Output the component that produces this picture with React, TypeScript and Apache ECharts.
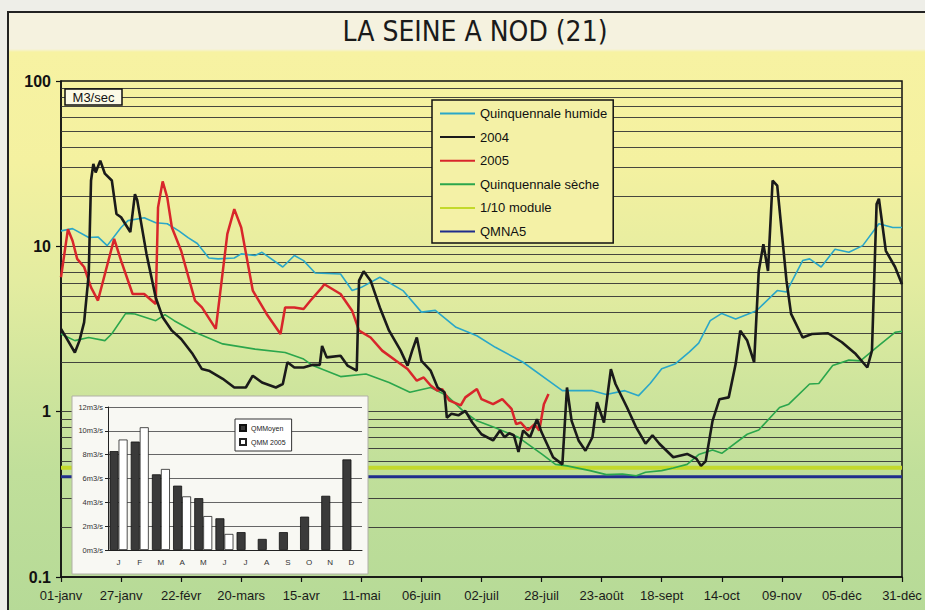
import React, { useEffect, useRef } from 'react';
import * as echarts from 'echarts';

const FONT = "'Liberation Sans', Arial, sans-serif";
const TITLE_FONT = "'Liberation Sans Narrow', 'Arial Narrow', 'DejaVu Sans Condensed', 'Liberation Sans', sans-serif";

const xTickLabels = ['01-janv', '27-janv', '22-févr', '20-mars', '15-avr', '11-mai', '06-juin', '02-juil', '28-juil', '23-août', '18-sept', '14-oct', '09-nov', '05-déc', '31-déc'];

// [day of year, m3/s]
const humide: [number, number][] = [
  [0, 12.4], [5, 12.8], [12, 11.3], [16, 11.4], [20, 10.1], [26, 13.0], [29, 14.3], [36, 14.9], [41, 13.9], [46, 13.7],
  [51, 12.4], [55, 11.3], [59, 10.4], [64, 8.5], [68, 8.4], [75, 8.5], [78, 9.0], [84, 8.8], [87, 9.2], [96, 7.5],
  [101, 8.8], [105, 8.2], [110, 6.9], [121, 6.8], [126, 5.4], [130, 5.65], [138, 6.5], [148, 5.4], [156, 4.0], [162, 4.1],
  [171, 3.24], [180, 2.88], [188, 2.45], [200, 1.99], [211, 1.54], [217, 1.34], [224, 1.34], [230, 1.34], [236, 1.27], [244, 1.34],
  [250, 1.25], [255, 1.48], [260, 1.82], [266, 1.95], [272, 2.3], [276, 2.6], [281, 3.55], [286, 3.93], [292, 3.64], [301, 4.08],
  [310, 5.4], [314, 5.3], [321, 8.2], [324, 8.4], [329, 7.5], [335, 9.6], [341, 9.2], [347, 10.1], [354, 13.7], [360, 13.0], [364, 13.0],
];

const seche: [number, number][] = [
  [0, 2.95], [6, 2.69], [12, 2.81], [19, 2.69], [22, 2.96], [28, 3.93], [32, 3.9], [41, 3.55], [45, 3.86], [49, 3.55],
  [58, 3.02], [70, 2.57], [84, 2.39], [97, 2.28], [105, 2.08], [109, 1.9], [121, 1.63], [132, 1.69], [142, 1.5], [151, 1.31],
  [160, 1.4], [167, 1.25], [174, 1.01], [180, 0.88], [188, 0.8], [198, 0.7], [208, 0.555], [214, 0.48], [219, 0.47], [229, 0.44],
  [236, 0.416], [243, 0.42], [249, 0.41], [253, 0.43], [260, 0.44], [265, 0.456], [271, 0.48], [276, 0.55], [282, 0.586], [286, 0.56],
  [297, 0.73], [302, 0.775], [311, 1.06], [315, 1.11], [324, 1.47], [328, 1.48], [334, 1.9], [341, 2.05], [346, 2.03], [353, 2.45],
  [361, 3.02], [364, 3.06],
];

const year2004: [number, number][] = [
  [0, 3.17], [3, 2.69], [6, 2.28], [8, 2.69], [10, 3.47], [12, 6.8], [13, 25], [14, 31.5], [15, 28], [17, 33], [19, 27.5],
  [22, 25], [24, 15.7], [26, 15], [30, 12.2], [32, 20.7], [33, 19], [37, 9.0], [41, 4.9], [44, 3.72], [48, 3.09], [52, 2.75],
  [57, 2.23], [61, 1.81], [64, 1.77], [70, 1.58], [75, 1.4], [80, 1.4], [83, 1.65], [87, 1.5], [93, 1.4], [96, 1.47], [98, 1.99],
  [101, 1.85], [105, 1.85], [109, 1.92], [112, 1.92], [113, 2.5], [115, 2.13], [121, 2.18], [124, 1.9], [128, 1.77], [129, 6.2],
  [131, 7.06], [134, 6.2], [138, 4.27], [142, 3.09], [147, 2.34], [150, 1.9], [152, 2.34], [154, 2.81], [156, 2.03], [160, 1.77],
  [163, 1.4], [166, 1.31], [167, 0.92], [169, 0.97], [172, 0.95], [175, 1.01], [178, 0.86], [182, 0.73], [187, 0.67], [190, 0.77],
  [192, 0.7], [194, 0.74], [196, 0.72], [198, 0.57], [200, 0.77], [203, 0.7], [206, 0.9], [208, 0.75], [213, 0.53], [217, 0.48],
  [219, 1.4], [221, 0.88], [224, 0.67], [227, 0.58], [230, 0.7], [232, 1.14], [235, 0.86], [238, 1.81], [240, 1.47], [245, 1.06],
  [249, 0.8], [253, 0.64], [256, 0.72], [259, 0.64], [265, 0.53], [271, 0.555], [275, 0.52], [277, 0.47], [279, 0.5], [282, 0.88],
  [285, 1.19], [289, 1.22], [292, 1.94], [294, 3.09], [297, 2.69], [300, 1.99], [302, 7.1], [304, 10.3], [306, 7.1], [308, 25],
  [310, 23.3], [314, 6.2], [316, 3.9], [321, 2.81], [325, 2.95], [332, 2.98], [338, 2.63], [344, 2.23], [349, 1.85], [351, 2.34],
  [353, 18], [354, 19.4], [357, 9.4], [361, 7.5], [364, 5.9],
];

const year2005: [number, number][] = [
  [0, 6.5], [3, 12.7], [5, 10.8], [7, 8.4], [10, 7.5], [13, 5.65], [16, 4.7], [19, 6.8], [23, 11.1], [26, 8.2], [31, 5.15],
  [36, 5.15], [41, 4.48], [42, 17.2], [44, 24.7], [46, 19.7], [48, 13.0], [52, 9.4], [58, 4.7], [61, 4.27], [67, 3.17], [72, 11.9],
  [75, 16.8], [78, 13], [83, 5.4], [89, 3.9], [95, 2.95], [97, 4.27], [101, 4.27], [105, 4.18], [108, 4.7], [113, 5.65], [114, 5.9],
  [121, 5.15], [126, 4.08], [129, 3.09], [134, 2.81], [139, 2.34], [145, 2.03], [150, 1.81], [154, 1.54], [157, 1.61], [160, 1.44],
  [163, 1.34], [165, 1.37], [168, 1.17], [173, 1.09], [175, 1.22], [180, 1.37], [182, 1.19], [187, 1.11], [191, 1.19], [195, 1.04],
  [197, 0.84], [199, 0.86], [202, 0.77], [205, 0.84], [207, 0.77], [209, 1.11], [211, 1.28],
];

const moduleDixieme = 0.458;
const qmna5 = 0.404;

const minorGridValues = [0.2, 0.3, 0.4, 0.5, 0.6, 0.7, 0.8, 0.9, 1, 2, 3, 4, 5, 6, 7, 8, 9, 10, 20, 30, 40, 50, 60, 70, 80, 90];

const months = ['J', 'F', 'M', 'A', 'M', 'J', 'J', 'A', 'S', 'O', 'N', 'D'];
const qmMoyen = [8.3, 9.1, 6.35, 5.4, 4.35, 2.66, 1.5, 0.93, 1.5, 2.8, 4.55, 7.6];
const qmm2005 = [9.27, 10.3, 6.8, 4.5, 2.85, 1.35, null, null, null, null, null, null];

export default function App() {
  const ref = useRef<HTMLDivElement>(null);

  useEffect(() => {
    const chart = echarts.init(ref.current!, null, { renderer: 'svg', width: 925, height: 610 });
    const line = (name: string, data: [number, number][], color: string, width: number, z: number) => ({
      name,
      type: 'line',
      data,
      xAxisIndex: 0,
      yAxisIndex: 0,
      symbol: 'none',
      z,
      lineStyle: { color, width },
      itemStyle: { color },
    });
    const option: any = {
      animation: false,
      backgroundColor: 'transparent',
      title: {
        text: 'LA SEINE A NOD (21)',
        left: 470,
        textAlign: 'center',
        top: 12,
        textStyle: { fontSize: 28, fontWeight: 'normal', fontFamily: TITLE_FONT, color: '#1a1a1a' },
      },
      legend: [
        {
          data: ['Quinquennale humide', '2004', '2005', 'Quinquennale sèche', '1/10 module', 'QMNA5'],
          orient: 'vertical',
          left: 432,
          top: 100,
          itemWidth: 35,
          itemHeight: 12,
          itemGap: 10.6,
          padding: [7, 6, 5, 7],
          borderColor: '#111',
          borderWidth: 1.5,
          backgroundColor: '#f4f1a6',
          z: 10,
          itemStyle: { opacity: 0, color: 'transparent', borderColor: 'transparent', borderWidth: 0 },
          textStyle: { fontSize: 13, color: '#111', fontFamily: FONT },
        },
        {
          data: ['QMMoyen', 'QMM 2005'],
          orient: 'vertical',
          left: 235,
          top: 419,
          icon: 'rect',
          itemWidth: 6,
          itemHeight: 6,
          itemGap: 6,
          itemTextGap: 3,
          padding: [5, 6, 5, 4],
          borderColor: '#333',
          borderWidth: 1,
          backgroundColor: '#fff',
          z: 16,
          textStyle: { fontSize: 7, color: '#222', fontFamily: FONT },
        },
      ],
      grid: [
        { left: 61, top: 81, width: 841, height: 496, show: true, borderColor: '#111', borderWidth: 1.5, backgroundColor: 'transparent' },
        { left: 108, top: 407, width: 254, height: 143 },
      ],
      xAxis: [
        {
          type: 'value',
          gridIndex: 0,
          min: 0,
          max: 364,
          interval: 26,
          axisLine: { lineStyle: { color: '#111', width: 1.5 } },
          axisTick: { show: true, length: 5, lineStyle: { color: '#111', width: 1.2 } },
          splitLine: { show: false },
          axisLabel: {
            margin: 12,
            fontSize: 13,
            color: '#1a1a1a',
            fontFamily: FONT,
            formatter: (v: number) => xTickLabels[Math.round(v / 26)] ?? '',
          },
        },
        {
          type: 'category',
          gridIndex: 1,
          data: months,
          z: 14,
          axisLine: { lineStyle: { color: '#222', width: 1 } },
          axisTick: { length: 3, lineStyle: { color: '#222' } },
          axisLabel: { fontSize: 8, color: '#333', margin: 8, fontFamily: FONT },
        },
      ],
      yAxis: [
        {
          type: 'log',
          gridIndex: 0,
          logBase: 10,
          min: 0.1,
          max: 100,
          axisLine: { show: true, lineStyle: { color: '#111', width: 1.5 } },
          axisTick: { show: true, length: 5, lineStyle: { color: '#111', width: 1.2 } },
          splitLine: { show: false },
          axisLabel: {
            margin: 10,
            fontSize: 16,
            fontWeight: 'bold',
            color: '#111',
            fontFamily: FONT,
            formatter: (v: number) => (v < 0.5 ? '0.1' : String(Math.round(v))),
          },
        },
        {
          type: 'value',
          gridIndex: 1,
          min: 0,
          max: 12,
          interval: 2,
          z: 14,
          axisLine: { show: true, lineStyle: { color: '#222', width: 1 } },
          axisTick: { show: true, length: 3, lineStyle: { color: '#222' } },
          splitLine: { lineStyle: { color: '#666', width: 1 } },
          axisLabel: { fontSize: 7.5, color: '#333', margin: 5, fontFamily: FONT, formatter: (v: number) => `${v}m3/s` },
        },
      ],
      series: [
        {
          name: '_grid',
          type: 'line',
          xAxisIndex: 0,
          yAxisIndex: 0,
          data: [],
          z: 1,
          silent: true,
          markLine: {
            silent: true,
            z: 1,
            symbol: 'none',
            label: { show: false },
            lineStyle: { color: '#333', width: 1.2, type: 'solid', opacity: 0.9 },
            data: minorGridValues.map((v) => ({ yAxis: v })),
          },
        },
        line('1/10 module', [[0, moduleDixieme], [364, moduleDixieme]], '#c3d92b', 4, 6),
        line('QMNA5', [[0, qmna5], [364, qmna5]], '#1f2d8c', 3, 6),
        line('Quinquennale humide', humide, '#2aa7c8', 1.6, 7),
        line('Quinquennale sèche', seche, '#2ba64c', 1.6, 7),
        line('2005', year2005, '#d8262b', 2.5, 8),
        line('2004', year2004, '#1a1a1a', 2.6, 9),
        {
          name: 'QMMoyen',
          type: 'bar',
          xAxisIndex: 1,
          yAxisIndex: 1,
          data: qmMoyen,
          barWidth: 9,
          barGap: '0%',
          z: 14,
          itemStyle: { color: '#3a3a3a', borderColor: '#111', borderWidth: 0.8 },
        },
        {
          name: 'QMM 2005',
          type: 'bar',
          xAxisIndex: 1,
          yAxisIndex: 1,
          data: qmm2005,
          barWidth: 9,
          barGap: '0%',
          z: 14,
          itemStyle: { color: '#ffffff', borderColor: '#222', borderWidth: 0.8 },
        },
      ],
      graphic: [
        {
          type: 'rect',
          z: 10,
          shape: { x: 65, y: 89, width: 57, height: 16 },
          style: { fill: '#fcfae6', stroke: '#111', lineWidth: 1.5 },
        },
        {
          type: 'text',
          z: 11,
          x: 93.5,
          y: 97.5,
          style: { text: 'M3/sec', fill: '#111', fontSize: 13, fontFamily: FONT, align: 'center', verticalAlign: 'middle' },
        },
        {
          type: 'rect',
          z: 12,
          shape: { x: 72, y: 396, width: 296, height: 178 },
          style: { fill: '#f8f8f3', stroke: '#b0b0a6', lineWidth: 1 },
        },
      ],
    };
    chart.setOption(option);
    return () => chart.dispose();
  }, []);

  return (
    <div style={{ position: 'fixed', left: 0, top: 0, width: 925, height: 610, background: '#eeeee8', overflow: 'hidden' }}>
      <div
        style={{
          position: 'absolute',
          left: 7,
          top: 11,
          width: 940,
          height: 620,
          borderLeft: '2px solid #222',
          borderTop: '2px solid #222',
          background:
            'linear-gradient(to bottom, #f5f2df 0px, #f5f2df 36px, #f7f2a2 39px, #f4f1a0 150px, #e3eca0 270px, #cfe59d 370px, #c0df9a 460px, #b6da97 600px)',
        }}
      />
      <div ref={ref} style={{ position: 'absolute', left: 0, top: 0, width: 925, height: 610 }} />
    </div>
  );
}
